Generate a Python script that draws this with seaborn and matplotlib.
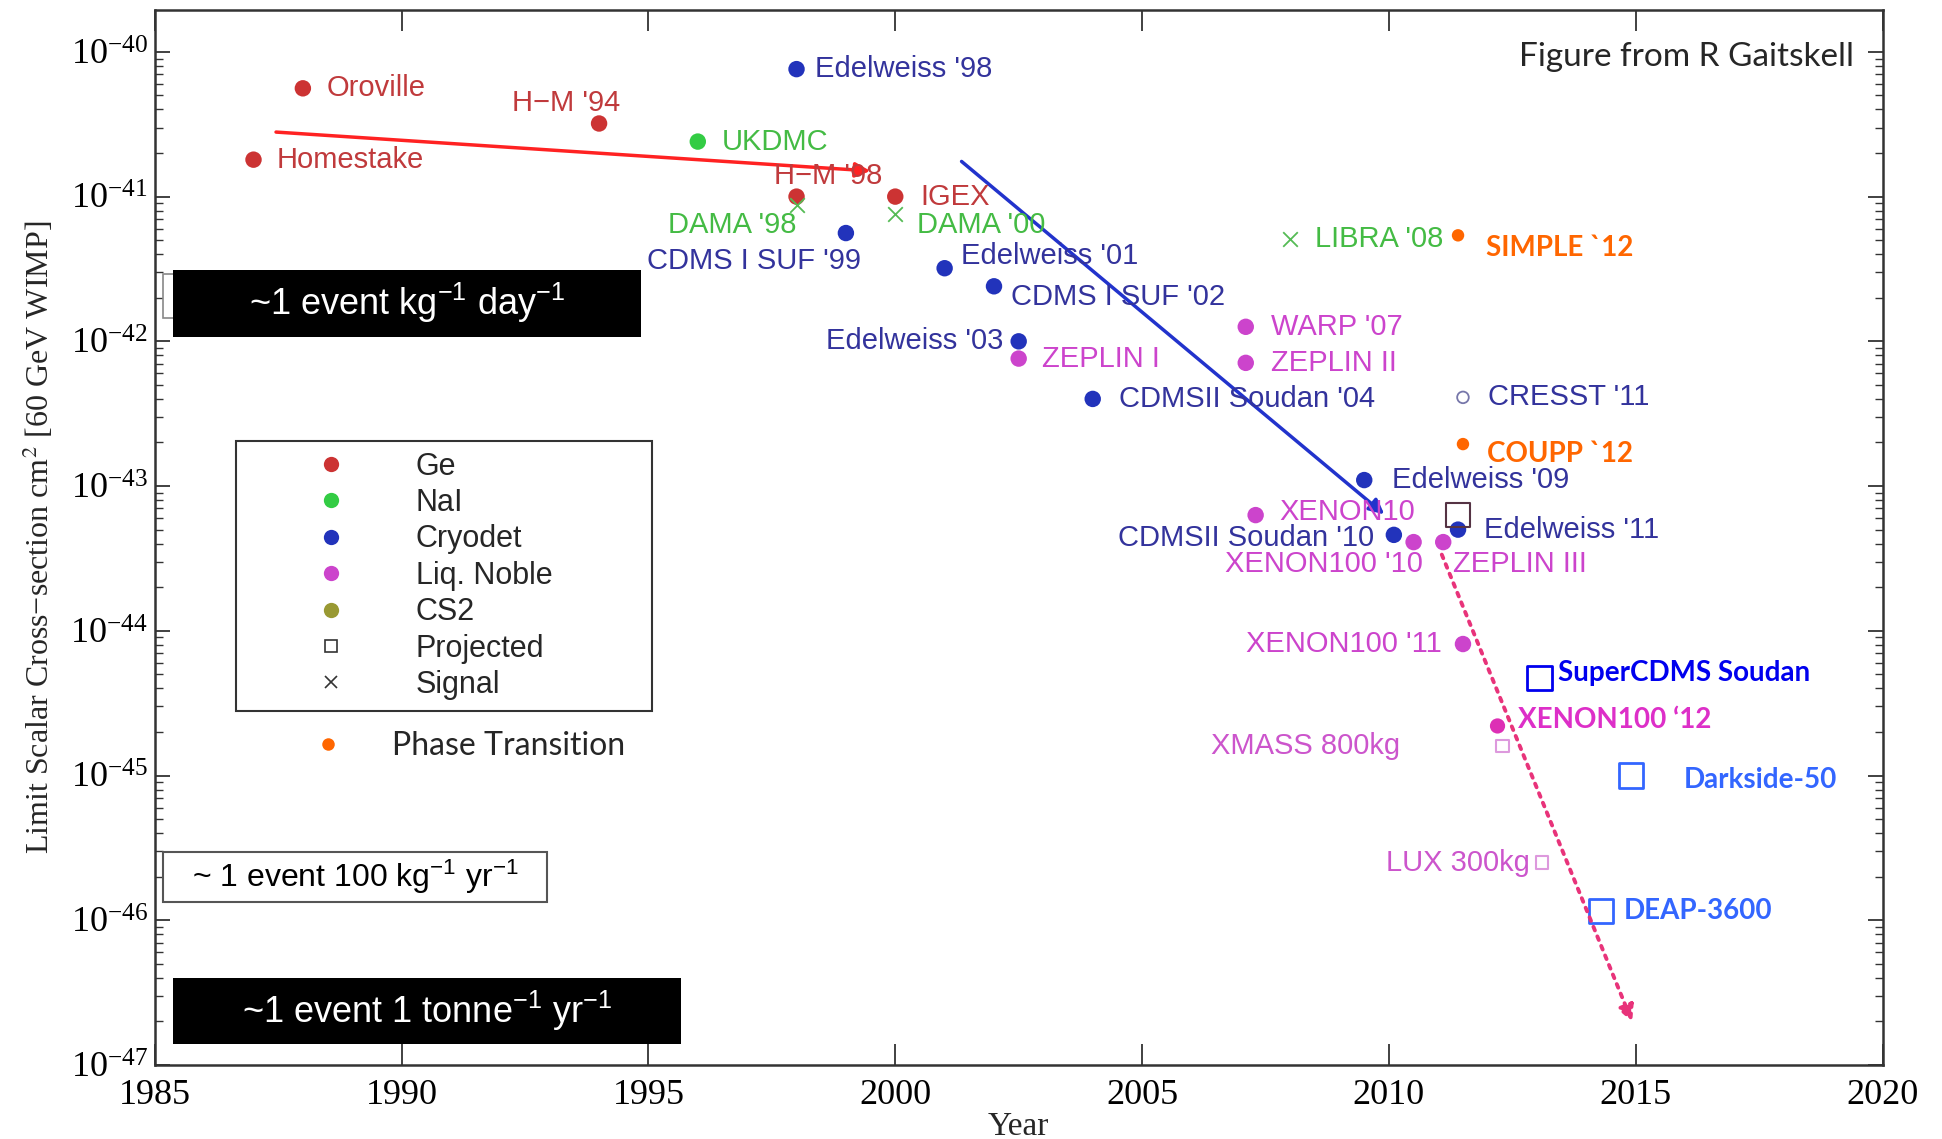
import numpy as np
import pandas as pd
import matplotlib
matplotlib.use("Agg")
import matplotlib.pyplot as plt
import seaborn as sns
from matplotlib.lines import Line2D
from matplotlib.patches import Rectangle
from matplotlib.ticker import LogLocator, NullFormatter, FixedLocator

# ---- data: year vs. limit (cm^2) ----
ge_names = ["Homestake", "Oroville", "H\u2212M '94", "H\u2212M '98", "IGEX"]
ge_years = [1987.0, 1988.0, 1994.0, 1998.0, 2000.0]
ge_limits = [1.8e-41, 5.6e-41, 3.2e-41, 1.0e-41, 1.0e-41]

nai_names = ["UKDMC"]
nai_years = [1996.0]
nai_limits = [2.4e-41]

signal_names = ["DAMA '98", "DAMA '00", "LIBRA '08"]
signal_years = [1998.0, 2000.0, 2008.0]
signal_limits = [8.7e-42, 7.6e-42, 5.1e-42]

cryo_names = ["Edelweiss '98", "CDMS I SUF '99", "Edelweiss '01", "CDMS I SUF '02",
              "Edelweiss '03", "CDMSII Soudan '04", "Edelweiss '09",
              "CDMSII Soudan '10", "Edelweiss '11"]
cryo_years = [1998.0, 1999.0, 2001.0, 2002.0, 2002.5, 2004.0, 2009.5, 2010.1, 2011.4]
cryo_limits = [7.6e-41, 5.6e-42, 3.2e-42, 2.4e-42, 1.0e-42, 4.0e-43, 1.1e-43, 4.6e-44, 5.0e-44]

noble_names = ["ZEPLIN I", "WARP '07", "ZEPLIN II", "XENON10", "XENON100 '10",
               "ZEPLIN III", "XENON100 '11"]
noble_years = [2002.5, 2007.1, 2007.1, 2007.3, 2010.5, 2011.1, 2011.5]
noble_limits = [7.6e-43, 1.26e-42, 7.1e-43, 6.3e-44, 4.1e-44, 4.1e-44, 8.1e-45]

xe12_names = ["XENON100 \u201812"]
xe12_years = [2012.2]
xe12_limits = [2.2e-45]

cresst_names = ["CRESST '11"]
cresst_years = [2011.5]
cresst_limits = [4.1e-43]

phase_names = ["SIMPLE `12", "COUPP `12"]
phase_years = [2011.4, 2011.5]
phase_limits = [5.4e-42, 1.95e-43]

proj_names = ["XMASS 800kg", "LUX 300kg"]
proj_years = [2012.3, 2013.1]
proj_limits = [1.6e-45, 2.5e-46]

proj_cdms_years = [2011.4]
proj_cdms_limits = [6.3e-44]

future_names = ["SuperCDMS Soudan", "Darkside-50", "DEAP-3600"]
future_years = [2013.05, 2014.9, 2014.3]
future_limits = [4.7e-45, 1.0e-45, 1.15e-46]

trend_ge_years = [1987.4, 1999.55]
trend_ge_limits = [2.8e-41, 1.5e-41]
trend_cryo_years = [2001.3, 2009.95]
trend_cryo_limits = [1.8e-41, 6.2e-44]
trend_xe_years = [2011.05, 2014.95]
trend_xe_limits = [3.5e-44, 1.9e-47]

legend_labels = ["Ge", "NaI", "Cryodet", "Liq. Noble", "CS2", "Projected", "Signal"]

# ---- styling ----
c_ge, c_nai, c_cryo, c_noble, c_cs2 = "#cc3333", "#33cc44", "#2233bb", "#cc44cc", "#999933"
c_orange = "#ff6600"

label_offsets = {  # (dx, dy) in points, alignment
    "Oroville": (17, 0, "left"), "Homestake": (17, 0, "left"),
    "H\u2212M '94": (-24, 15, "center"), "UKDMC": (17, 0, "left"),
    "H\u2212M '98": (23, 15, "center"), "IGEX": (18, 0, "left"),
    "DAMA '98": (0, -14, "right"), "DAMA '00": (16, -8, "left"),
    "LIBRA '08": (18, 0, "left"),
    "Edelweiss '98": (13, 0, "left"), "CDMS I SUF '99": (11, -20, "right"),
    "Edelweiss '01": (12, 9, "left"), "CDMS I SUF '02": (12, -8, "left"),
    "Edelweiss '03": (-11, 0, "right"), "CDMSII Soudan '04": (19, 0, "left"),
    "Edelweiss '09": (20, 0, "left"), "CDMSII Soudan '10": (-14, -2, "right"),
    "Edelweiss '11": (19, 0, "left"),
    "ZEPLIN I": (17, 0, "left"), "WARP '07": (18, 0, "left"),
    "ZEPLIN II": (18, 0, "left"), "XENON10": (17, 2, "left"),
    "XENON100 '10": (7, -16, "right"), "ZEPLIN III": (7, -16, "left"),
    "XENON100 '11": (-15, 0, "right"), "XENON100 \u201812": (15, 4, "left"),
    "CRESST '11": (18, 0, "left"),
    "SIMPLE `12": (20, -9, "left"), "COUPP `12": (17, -7, "left"),
    "XMASS 800kg": (-74, 0, "right"), "LUX 300kg": (-9, 0, "right"),
    "SuperCDMS Soudan": (13, 4, "left"), "Darkside-50": (38, -3, "left"),
    "DEAP-3600": (16, 0, "left"),
}

sns.set_style("ticks", {"xtick.direction": "in", "ytick.direction": "in"})
plt.rcParams["font.family"] = ["Liberation Sans", "DejaVu Sans"]
plt.rcParams["mathtext.fontset"] = "stix"

fig = plt.figure(figsize=(19.42, 11.39), dpi=100)
ax = fig.add_axes([0.0797, 0.0650, 0.8897, 0.9263])
ax.set_yscale("log")

sns.scatterplot(x=ge_years, y=ge_limits, color=c_ge, s=140, edgecolor="none", ax=ax)
sns.scatterplot(x=nai_years, y=nai_limits, color=c_nai, s=140, edgecolor="none", ax=ax)
sns.scatterplot(x=cryo_years, y=cryo_limits, color=c_cryo, s=140, edgecolor="none", ax=ax)
sns.scatterplot(x=noble_years, y=noble_limits, color=c_noble, s=140, edgecolor="none", ax=ax)
sns.scatterplot(x=xe12_years, y=xe12_limits, color="#dd2fb5", s=120, edgecolor="none", ax=ax)
sns.scatterplot(x=phase_years, y=phase_limits, color=c_orange, s=80, edgecolor="none", ax=ax)
sns.scatterplot(x=signal_years, y=signal_limits, color="#55bb55", marker="x", s=110,
                linewidth=1.3, ax=ax)
sns.scatterplot(x=cresst_years, y=cresst_limits, marker="o", s=70, facecolors="none",
                edgecolors="#7777aa", linewidth=1.3, ax=ax)
sns.scatterplot(x=proj_years, y=proj_limits, marker="s", s=85, facecolors="none",
                edgecolors="#dd99dd", linewidth=1.5, ax=ax)
sns.scatterplot(x=proj_cdms_years, y=proj_cdms_limits, marker="s", s=300, facecolors="none",
                edgecolors="#553344", linewidth=1.5, ax=ax)
sns.scatterplot(x=future_years[:1], y=future_limits[:1], marker="s", s=300, facecolors="none",
                edgecolors="#0000ee", linewidth=2, ax=ax)
sns.scatterplot(x=future_years[1:], y=future_limits[1:], marker="s", s=300, facecolors="none",
                edgecolors="#3366ff", linewidth=2, ax=ax)

# trend arrows
ax.annotate("", xy=(trend_ge_years[1], trend_ge_limits[1]),
            xytext=(trend_ge_years[0], trend_ge_limits[0]),
            arrowprops=dict(arrowstyle="-|>", color="#ff2222", lw=2.5, mutation_scale=22))
ax.annotate("", xy=(trend_cryo_years[1], trend_cryo_limits[1]),
            xytext=(trend_cryo_years[0], trend_cryo_limits[0]),
            arrowprops=dict(arrowstyle="-|>", color="#2233cc", lw=2.5, mutation_scale=22))
ax.annotate("", xy=(trend_xe_years[1], trend_xe_limits[1]),
            xytext=(trend_xe_years[0], trend_xe_limits[0]),
            arrowprops=dict(arrowstyle="-|>", color="#e8337a", lw=2.8, ls=":",
                            mutation_scale=24))

plain = dict(fontsize=21, family="Liberation Sans")
bold = dict(fontsize=20, family=["Lato", "DejaVu Sans"], fontweight="bold")


def label_points(names, years, limits, color, font):
    for n, x, y in zip(names, years, limits):
        dx, dy, ha = label_offsets[n]
        ax.annotate(n, (x, y), xytext=(dx, dy), textcoords="offset points",
                    ha=ha, va="center", color=color, **font)


label_points(ge_names, ge_years, ge_limits, "#c03a3c", plain)
label_points(nai_names, nai_years, nai_limits, "#44bb44", plain)
label_points(signal_names, signal_years, signal_limits, "#44bb44", plain)
label_points(cryo_names, cryo_years, cryo_limits, "#33339c", plain)
label_points(cresst_names, cresst_years, cresst_limits, "#33339c", plain)
label_points(noble_names, noble_years, noble_limits, "#cc44cc", plain)
label_points(proj_names, proj_years, proj_limits, "#cc55cc", plain)
label_points(xe12_names, xe12_years, xe12_limits, "#dd2fc8", bold)
label_points(phase_names, phase_years, phase_limits, c_orange, bold)
label_points(future_names[:1], future_years[:1], future_limits[:1], "#0000ee", bold)
label_points(future_names[1:], future_years[1:], future_limits[1:], "#3366ff", bold)

# rate boxes
ax.add_patch(Rectangle((0.005, 0.708), 0.19, 0.042, transform=ax.transAxes,
                       facecolor="white", edgecolor="#888888", lw=1.2))
ax.add_patch(Rectangle((0.0105, 0.690), 0.2712, 0.0635, transform=ax.transAxes,
                       facecolor="black", edgecolor="none"))
ax.text(0.1461, 0.7223, r"~1 event kg$\mathregular{^{-1}}$ day$\mathregular{^{-1}}$",
        transform=ax.transAxes, ha="center", va="center", color="white", fontsize=26)
ax.add_patch(Rectangle((0.005, 0.1549), 0.2222, 0.047, transform=ax.transAxes,
                       facecolor="white", edgecolor="#555555", lw=1.5))
ax.text(0.1162, 0.1782, r"~ 1 event 100 kg$\mathregular{^{-1}}$ yr$\mathregular{^{-1}}$",
        transform=ax.transAxes, ha="center", va="center", color="black", fontsize=23)
ax.add_patch(Rectangle((0.0107, 0.0199), 0.2939, 0.0621, transform=ax.transAxes,
                       facecolor="black", edgecolor="none"))
ax.text(0.1577, 0.0512, r"~1 event 1 tonne$\mathregular{^{-1}}$ yr$\mathregular{^{-1}}$",
        transform=ax.transAxes, ha="center", va="center", color="white", fontsize=26)

ax.text(0.9834, 0.9555, "Figure from R Gaitskell", transform=ax.transAxes,
        ha="right", va="center", fontsize=24, family=["Lato", "DejaVu Sans"])

# legend
handles = [Line2D([], [], ls="none", marker="o", ms=11, mfc=c, mec="none")
           for c in [c_ge, c_nai, c_cryo, c_noble, c_cs2]]
handles.append(Line2D([], [], ls="none", marker="s", ms=9, mfc="none", mec="#333333", mew=1.2))
handles.append(Line2D([], [], ls="none", marker="x", ms=8, color="#333333", mew=1.2))
leg = ax.legend(handles, legend_labels, loc="upper left",
                bbox_to_anchor=(0.0472, 0.3427, 0.2408, 0.2488), mode="expand",
                borderaxespad=0, borderpad=0.35, handlelength=5.5, handletextpad=0.02,
                labelspacing=0.21, fancybox=False, edgecolor="#333333", framealpha=1,
                prop=dict(family="Liberation Sans", size=22))
leg.get_frame().set_linewidth(1.5)
ax.add_artist(leg)
ax.legend([Line2D([], [], ls="none", marker="o", ms=9, mfc=c_orange, mec="none")],
          ["Phase Transition"], loc="upper left", bbox_to_anchor=(0.0745, 0.3286),
          borderaxespad=0, borderpad=0.4, handlelength=2.0, handletextpad=1.0,
          frameon=False, prop=dict(family=["Lato", "DejaVu Sans"], size=23))

# axes
ax.set_xlim(1985, 2020)
ax.set_ylim(1e-47, 10 ** -39.71)
ax.xaxis.set_major_locator(FixedLocator(np.arange(1985, 2021, 5)))
ax.yaxis.set_major_locator(FixedLocator([10.0 ** e for e in range(-47, -39)]))
ax.yaxis.set_minor_locator(LogLocator(base=10, subs=np.arange(2, 10), numticks=100))
ax.yaxis.set_minor_formatter(NullFormatter())
ax.tick_params(which="both", top=True, right=True, direction="in", colors="#333333",
               labelcolor="black", labelsize=26, labelfontfamily="Liberation Serif")
ax.tick_params(axis="x", which="major", length=15, width=1.3, pad=10)
ax.tick_params(axis="y", which="major", length=11, width=1.3, pad=5)
ax.tick_params(axis="y", which="minor", length=6, width=1.0)
for s in ax.spines.values():
    s.set_linewidth(1.8)
    s.set_color("#333333")

ax.set_xlabel("Year", fontsize=24, family="Liberation Serif", labelpad=0)
ax.set_ylabel("Limit Scalar Cross\u2212section cm$^2$ [60 GeV WIMP]", fontsize=23,
              family="Liberation Serif", labelpad=10)

fig.savefig("out.png", dpi=100)
